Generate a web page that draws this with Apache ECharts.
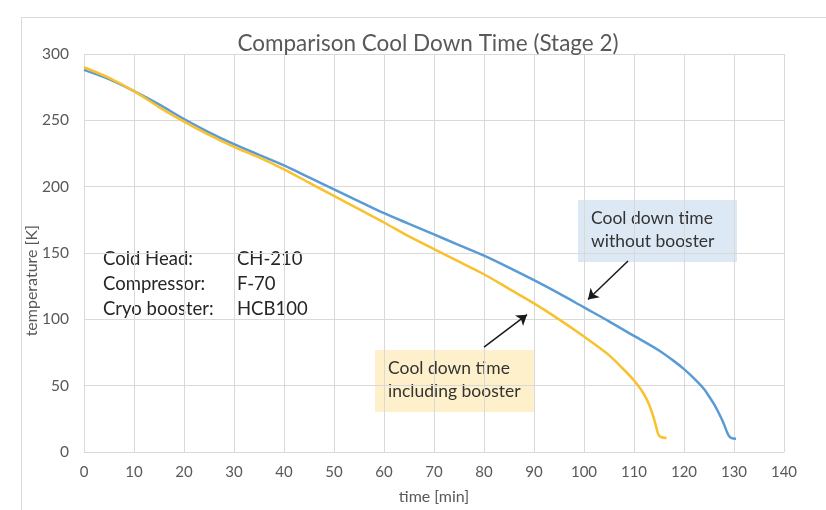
<!DOCTYPE html>
<html>
<head>
<meta charset="utf-8">
<script src="https://cdn.jsdelivr.net/npm/echarts@6/dist/echarts.min.js"></script>
<style>
  html, body { margin: 0; padding: 0; background: #fff; }
  #chart { width: 826px; height: 510px; }
</style>
</head>
<body>
<div id="chart"></div>
<script>
// Stage 2 cool down curves: time [min] vs temperature [K]
const timeWithout = [0, 5, 10, 15, 20, 25, 30, 35, 40, 45, 50, 55, 60, 65, 70, 75, 80, 85, 90, 95, 100, 105, 110, 115, 118, 120, 122, 124, 125, 126, 127, 128, 128.6, 129, 129.5, 130.4];
const tempWithout = [288, 281, 272, 262, 251, 241, 232, 224, 216, 207, 198, 189, 180, 172, 164, 156, 148, 139, 129.5, 119.5, 109, 98.5, 87.5, 76.5, 68.5, 62.5, 55.5, 47.5, 42, 36, 29, 21, 15, 12, 10.5, 10];

const timeIncluding = [0, 5, 10, 15, 20, 25, 30, 35, 40, 45, 50, 55, 60, 65, 70, 75, 80, 85, 90, 95, 100, 105, 108, 110, 111.5, 112.5, 113.3, 114, 114.5, 114.9, 115.4, 116.5];
const tempIncluding = [290, 282, 272, 260, 249, 239, 230, 222, 213, 203, 193, 183, 173, 162.5, 153, 143.5, 134, 123, 112, 100, 87, 73, 62, 54, 46.5, 40, 33, 25, 18, 13, 11.3, 10.5];

const xTicks = { min: 0, max: 140, step: 10 };
const yTicks = { min: 0, max: 300, step: 50 };

const titleText = 'Comparison Cool Down Time (Stage 2)';
const xName = 'time [min]';
const yName = 'temperature [K]';
const setupLabels = ['Cold Head:', 'Compressor:', 'Cryo booster:'];
const setupValues = ['CH-210', 'F-70', 'HCB100'];
const noteWithout = ['Cool down time', 'without booster'];
const noteIncluding = ['Cool down time', 'including booster'];

// arrow endpoints in data space [time, temperature]
const arrowWithout = [[108.8, 144], [100.8, 115]];
const arrowIncluding = [[80, 79], [88.6, 103.5]];

const FONT = 'Lato';
const GRID_COLOR = '#d9d9d9';
const TEXT_GRAY = '#595959';

function pairs(xs, ys) { return xs.map((x, i) => [x, ys[i]]); }

function arrowLine(pts) {
  return {
    silent: true,
    symbol: ['none', 'arrow'],
    symbolSize: 10,
    label: { show: false },
    lineStyle: { color: '#1a1a1a', width: 1.5, type: 'solid' },
    itemStyle: { color: '#1a1a1a' },
    emphasis: { disabled: true },
    data: [[{ coord: pts[0] }, { coord: pts[1] }]]
  };
}

const chart = echarts.init(document.getElementById('chart'), null, { renderer: 'canvas' });

const setupGraphics = [];
setupLabels.forEach((t, i) => {
  setupGraphics.push({
    type: 'text', left: 103, top: 250 + i * 25,
    style: { text: t, font: '18.5px ' + FONT, fill: '#262626' }
  });
  setupGraphics.push({
    type: 'text', left: 237, top: 250 + i * 25,
    style: { text: setupValues[i], font: '18.5px ' + FONT, fill: '#262626' }
  });
});

function noteBox(x, y, lines, bg) {
  return {
    type: 'group', left: x, top: y,
    children: [
      { type: 'rect', shape: { x: 0, y: 0, width: 159, height: 62 }, style: { fill: bg } },
      { type: 'text', x: 13, y: 9, style: { text: lines[0], font: '17.5px ' + FONT, fill: '#333333' } },
      { type: 'text', x: 13, y: 32, style: { text: lines[1], font: '17.5px ' + FONT, fill: '#333333' } }
    ]
  };
}

chart.setOption({
  animation: false,
  backgroundColor: '#ffffff',
  title: {
    text: titleText,
    left: 423, top: 27, textAlign: 'center',
    textStyle: { fontFamily: FONT, fontSize: 22.5, fontWeight: 'normal', color: TEXT_GRAY }
  },
  grid: { left: 84, right: 42, top: 54, bottom: 54, containLabel: false },
  xAxis: {
    type: 'value', min: xTicks.min, max: xTicks.max, interval: xTicks.step,
    name: xName, nameLocation: 'middle', nameGap: 37,
    nameTextStyle: { fontFamily: FONT, fontSize: 16, color: TEXT_GRAY },
    axisLine: { show: true, lineStyle: { color: GRID_COLOR, width: 1 } },
    axisTick: { show: false },
    axisLabel: { fontFamily: FONT, fontSize: 15, color: TEXT_GRAY, margin: 13 },
    splitLine: { show: true, lineStyle: { color: GRID_COLOR, width: 1 } }
  },
  yAxis: {
    type: 'value', min: yTicks.min, max: yTicks.max, interval: yTicks.step,
    axisLine: { show: false },
    axisTick: { show: false },
    axisLabel: { fontFamily: FONT, fontSize: 15.5, color: TEXT_GRAY, margin: 15 },
    splitLine: { show: true, lineStyle: { color: GRID_COLOR, width: 1 } }
  },
  graphic: [
    { type: 'rect', left: 19, top: 15, shape: { width: 820, height: 520 },
      style: { fill: 'none', stroke: GRID_COLOR, lineWidth: 1 }, silent: true },
    { type: 'text', left: 24, top: 225, rotation: Math.PI / 2,
      style: { text: yName, font: '16px ' + FONT, fill: TEXT_GRAY } },
    ...setupGraphics,
    noteBox(578, 200, noteWithout, '#dde8f5'),
    noteBox(375, 350, noteIncluding, '#fdf0cb')
  ],
  series: [
    {
      name: 'without booster', type: 'line', data: pairs(timeWithout, tempWithout),
      smooth: 0.3, showSymbol: false, z: 3,
      lineStyle: { color: '#5b9bd5', width: 2.5 },
      markLine: arrowLine(arrowWithout)
    },
    {
      name: 'including booster', type: 'line', data: pairs(timeIncluding, tempIncluding),
      smooth: 0.3, showSymbol: false, z: 3,
      lineStyle: { color: '#f9c12e', width: 2.5 },
      markLine: arrowLine(arrowIncluding)
    }
  ]
});
</script>
</body>
</html>
